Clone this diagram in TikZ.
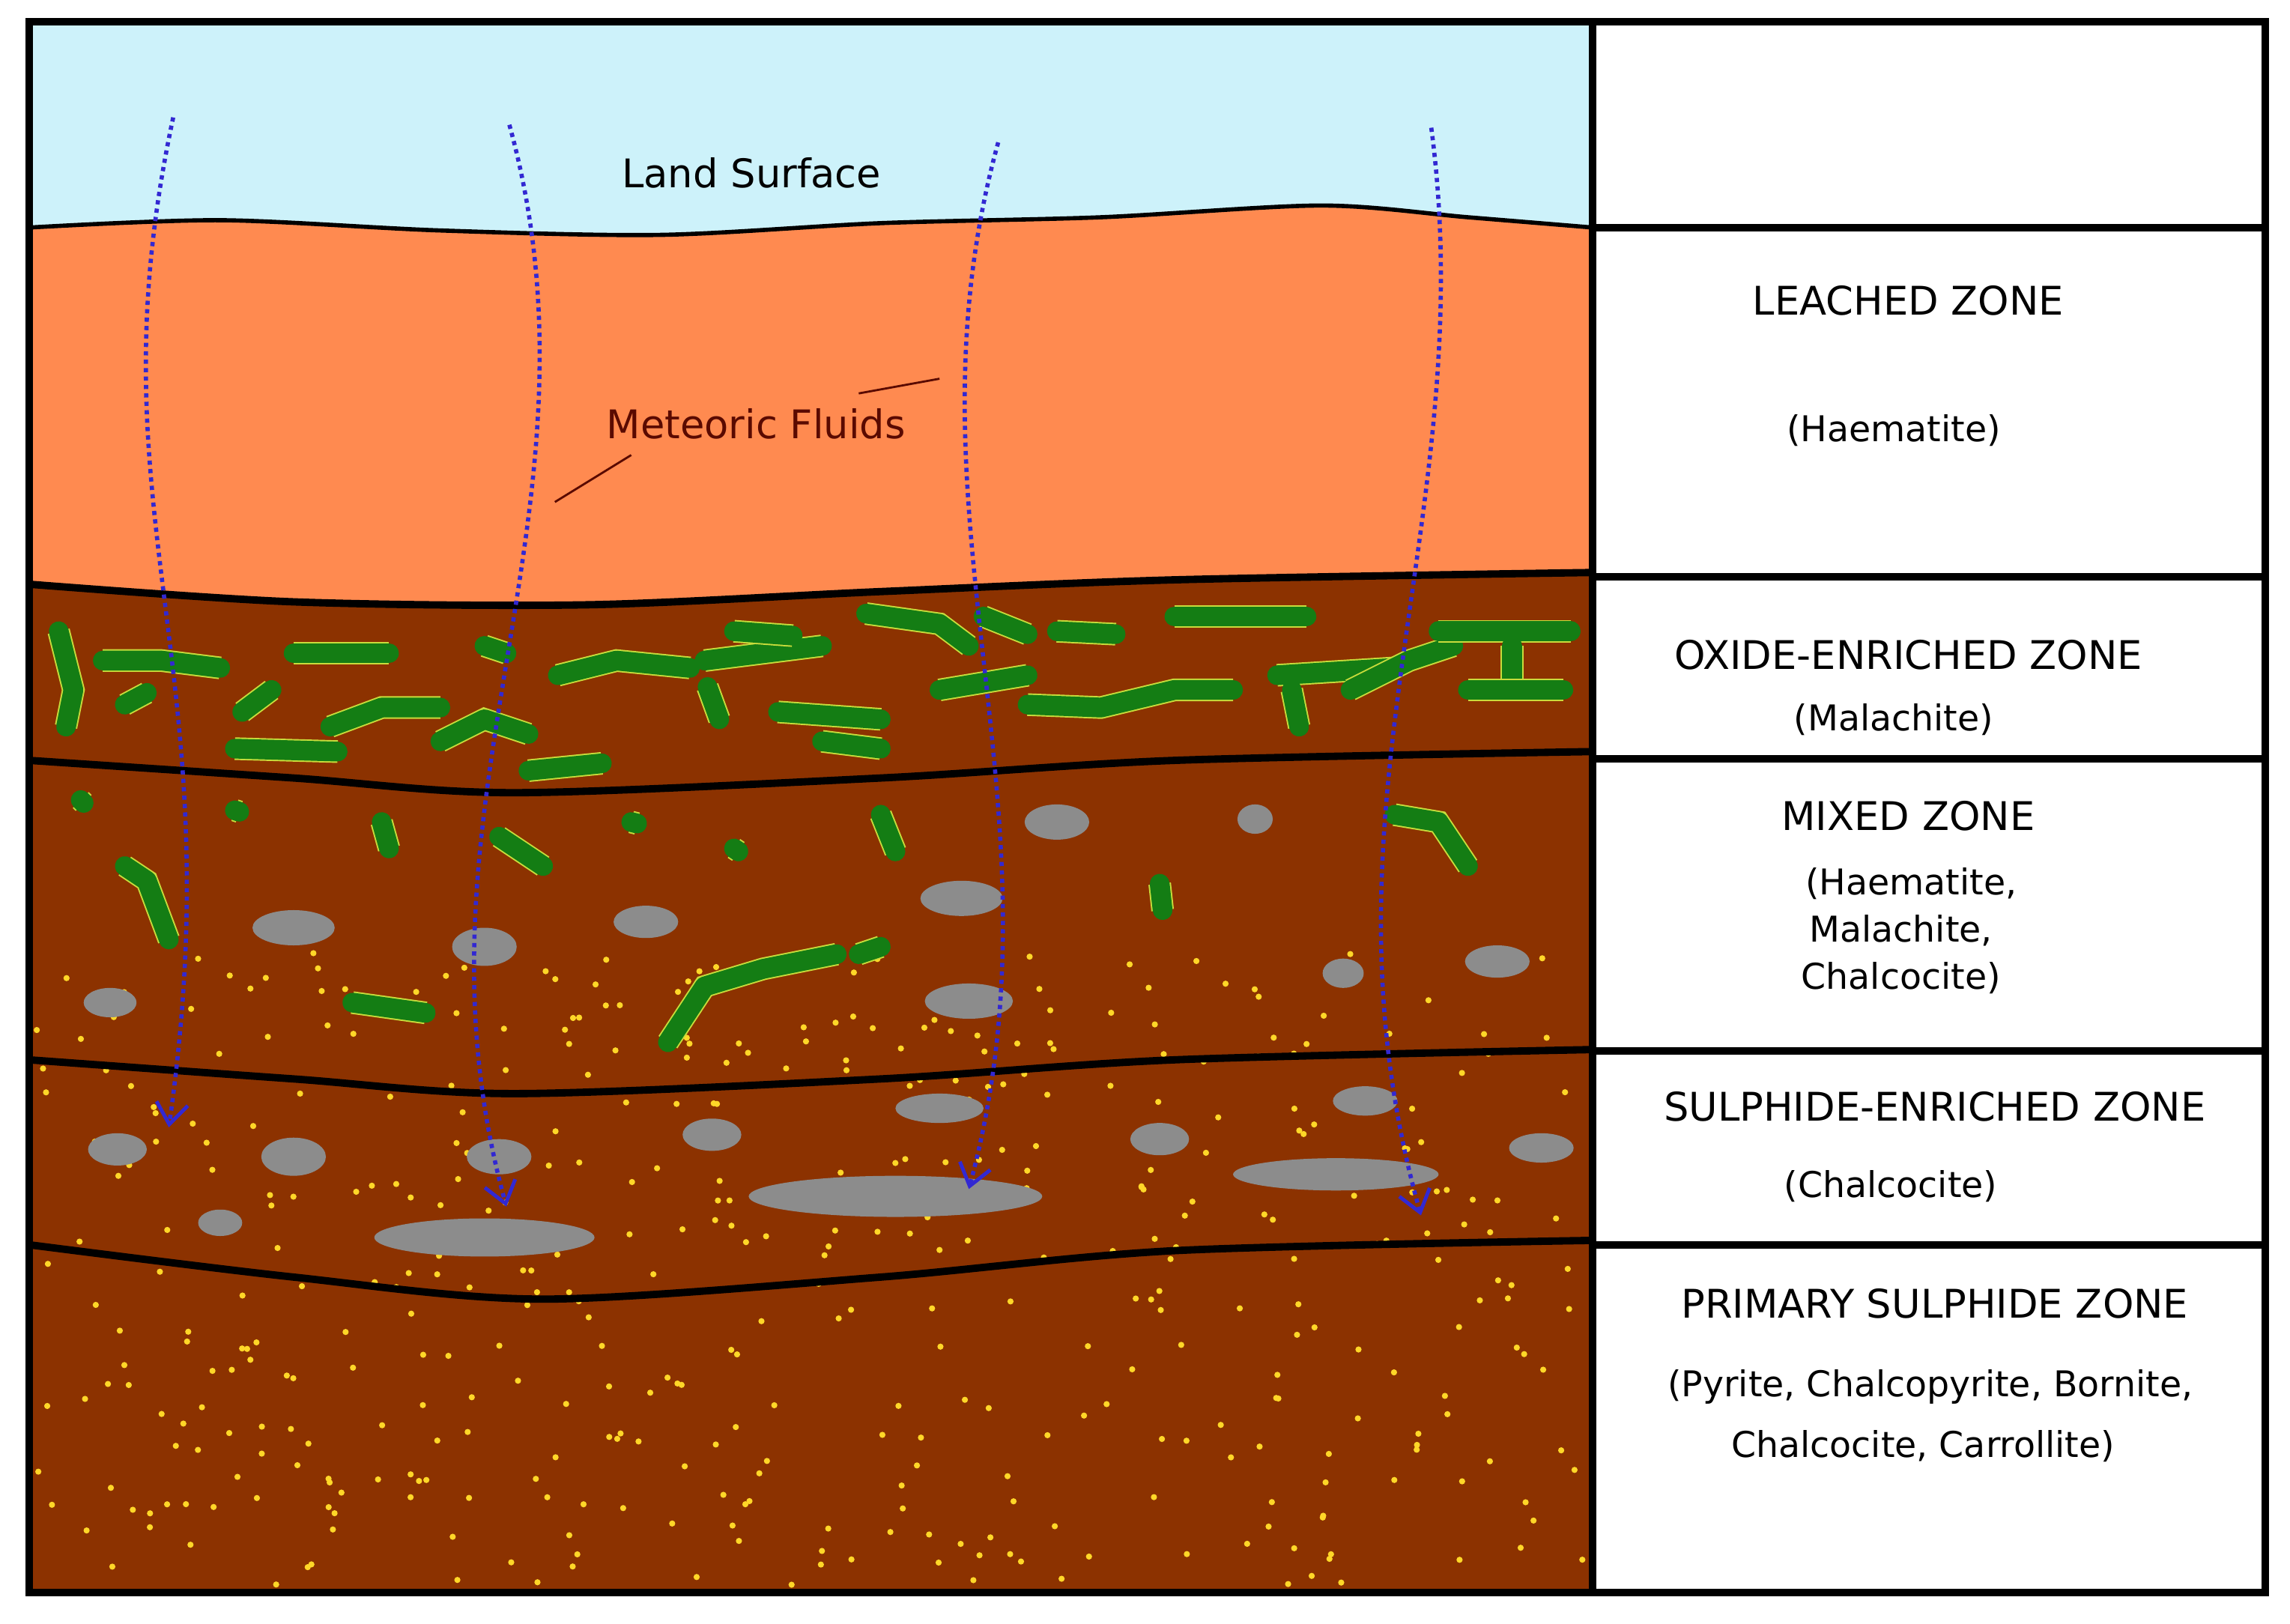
\documentclass[tikz,border=0pt]{standalone}
\usepackage{fontspec}
\setmainfont{DejaVu Sans}
\usetikzlibrary{arrows.meta}
\definecolor{sky}{RGB}{205,242,250}
\definecolor{orng}{RGB}{255,138,80}
\definecolor{brn}{RGB}{140,50,0}
\definecolor{grn}{RGB}{20,125,20}
\definecolor{gedge}{RGB}{200,220,60}
\definecolor{gry}{RGB}{140,140,140}
\definecolor{dot}{RGB}{255,215,40}
\definecolor{arr}{RGB}{50,40,210}
\definecolor{mtxt}{RGB}{90,10,0}
\tikzset{
 vein/.style={line cap=round,line join=round,draw=grn,line width=7.5pt,preaction={draw=gedge,line width=8.6pt}},
 ore/.style={fill=gry},
 bnd/.style={draw=black,line width=2.8pt},
 flow/.style={draw=arr,line width=1.6pt,dash pattern=on 1.6pt off 1.6pt,-{Straight Barb[length=8pt,width=12pt,line width=1.4pt]}},
 lbl/.style={font=\fontsize{15}{18}\selectfont,inner sep=0pt},
 zlbl/.style={font=\fontsize{13.5}{16}\selectfont,inner sep=0pt}
}
\begin{document}
\begin{tikzpicture}[x=0.0196cm,y=-0.0196cm]
\useasboundingbox (0,0) rectangle (1560,1106);
\fill[white] (0,0) rectangle (1560,1106);
% layers
\fill[brn] (20,15) rectangle (1085,1085);
\fill[orng] (20,15) -- plot[smooth] coordinates {(20,398)(200,410)(400,412)(600,403)(800,395)(1085,390)} -- (1085,15) -- cycle;
\fill[sky] (20,15) -- plot[smooth] coordinates {(20,155)(150,150)(300,157)(450,160)(600,152)(750,148)(900,140)(1000,148)(1085,155)} -- (1085,15) -- cycle;
% dots
\begin{scope}
\clip (20,640) rectangle (1085,1085);
\pgfmathsetseed{7}
\foreach \i in {1,...,450}{
 \pgfmathsetmacro\xx{25+1055*rnd}
 \pgfmathsetmacro\yy{645+435*rnd}
 \fill[dot] (\xx,\yy) circle (2.1);
}
\end{scope}
% veins
\foreach \p in {
 {(40,430)--(50,470)--(45,495)},{(70,450)--(110,450)--(150,455)},{(85,480)--(100,472)},
 {(165,485)--(185,470)},{(200,445)--(265,445)},{(225,495)--(260,482)--(300,482)},
 {(160,510)--(230,512)},{(330,440)--(345,445)},{(300,505)--(330,490)--(360,500)},
 {(380,460)--(420,450)--(470,455)},{(360,525)--(410,520)},{(480,450)--(560,440)},
 {(490,490)--(482,468)},{(530,485)--(600,490)},{(590,418)--(640,425)--(660,440)},
 {(500,430)--(540,433)},{(640,470)--(700,460)},{(670,420)--(700,432)},{(720,430)--(760,432)},
 {(700,480)--(750,482)--(800,470)--(840,470)},{(800,420)--(890,420)},{(870,460)--(950,455)},
 {(880,470)--(885,495)},{(920,470)--(960,450)--(990,440)},{(980,430)--(1070,430)},
 {(1030,440)--(1030,470)},{(1000,470)--(1065,470)},{(560,505)--(600,510)},
 {(55,545)--(57,547)},{(85,590)--(100,600)--(115,640)},{(160,552)--(163,553)},{(260,560)--(265,578)},
 {(340,570)--(370,590)},{(430,560)--(434,561)},{(500,578)--(503,580)},{(600,555)--(610,580)},
 {(790,602)--(792,620)},{(950,555)--(980,560)--(1000,590)},{(240,683)--(290,690)},
 {(455,710)--(480,672)--(520,660)--(570,650)},{(585,650)--(600,645)}}
 {\draw[vein] \p;}
% ore
\foreach \x/\y/\w/\h in {200/632/28/12,330/645/22/13,440/628/22/11,655/612/28/12,720/560/22/12,855/558/12/10,
 75/683/18/10,660/682/30/12,915/663/14/10,1020/655/22/11,
 80/783/20/11,200/788/22/13,150/833/15/9,340/788/22/12,330/843/75/13,485/773/20/11,640/755/30/10,
 610/815/100/14,790/776/20/11,910/800/70/11,930/750/22/10,1050/782/22/10}
 {\fill[ore] (\x,\y) ellipse ({\w} and {\h});}
% boundaries
\draw[draw=black,line width=1.6pt] plot[smooth] coordinates {(20,155)(150,150)(300,157)(450,160)(600,152)(750,148)(900,140)(1000,148)(1085,155)};
\draw[bnd] plot[smooth] coordinates {(20,398)(200,410)(400,412)(600,403)(800,395)(1085,390)};
\draw[bnd] plot[smooth] coordinates {(20,518)(200,530)(350,540)(600,530)(800,518)(1085,512)};
\draw[bnd] plot[smooth] coordinates {(20,722)(200,735)(350,745)(600,735)(800,722)(1085,715)};
\draw[bnd] plot[smooth] coordinates {(20,848)(200,870)(370,885)(600,870)(800,852)(1085,845)};
% flows
\coordinate (a1) at (118,80); \coordinate (b1) at (115,768);
\coordinate (a2) at (347,85); \coordinate (b2) at (345,822);
\coordinate (a3) at (680,97); \coordinate (b3) at (660,810);
\coordinate (a4) at (975,87); \coordinate (b4) at (968,828);
\draw[flow] (a1) .. controls (60,350) and (160,450) .. (b1);
\draw[flow] (a2) .. controls (420,350) and (270,550) .. (b2);
\draw[flow] (a3) .. controls (610,350) and (730,550) .. (b3);
\draw[flow] (a4) .. controls (1010,350) and (890,550) .. (b4);
% labels
\node[lbl] (ls) at (512,118) {Land Surface};
\node[lbl,text=mtxt] (mf) at (515,289) {Meteoric Fluids};
\coordinate (l1a) at (585,268); \coordinate (l1b) at (640,258);
\coordinate (l2a) at (430,310); \coordinate (l2b) at (378,342);
\draw[mtxt,line width=0.8pt] (l1a) -- (l1b);
\draw[mtxt,line width=0.8pt] (l2a) -- (l2b);
% frame and table
\draw[line width=2.8pt] (20,15) rectangle (1543,1085);
\draw[line width=2.8pt] (1085,15) -- (1085,1085);
\foreach \y in {155,393,517,716,848} \draw[line width=2.8pt] (1085,\y) -- (1543,\y);
\node[lbl] (z1) at (1300,205) {LEACHED ZONE};
\node[zlbl] (z1b) at (1290,293) {(Haematite)};
\node[lbl] (z2) at (1300,446) {OXIDE-ENRICHED ZONE};
\node[zlbl] (z2b) at (1290,490) {(Malachite)};
\node[lbl] (z3) at (1300,556) {MIXED ZONE};
\node[zlbl] (z3b) at (1302,602) {(Haematite,};
\node[zlbl] (z3c) at (1295,634) {Malachite,};
\node[zlbl] (z3d) at (1295,666) {Chalcocite)};
\node[lbl] (z4) at (1318,754) {SULPHIDE-ENRICHED ZONE};
\node[zlbl] (z4b) at (1288,808) {(Chalcocite)};
\node[lbl] (z5) at (1318,888) {PRIMARY SULPHIDE ZONE};
\node[zlbl] (z5b) at (1315,945) {(Pyrite, Chalcopyrite, Bornite,};
\node[zlbl] (z5c) at (1310,985) {Chalcocite, Carrollite)};
\end{tikzpicture}
\end{document}
